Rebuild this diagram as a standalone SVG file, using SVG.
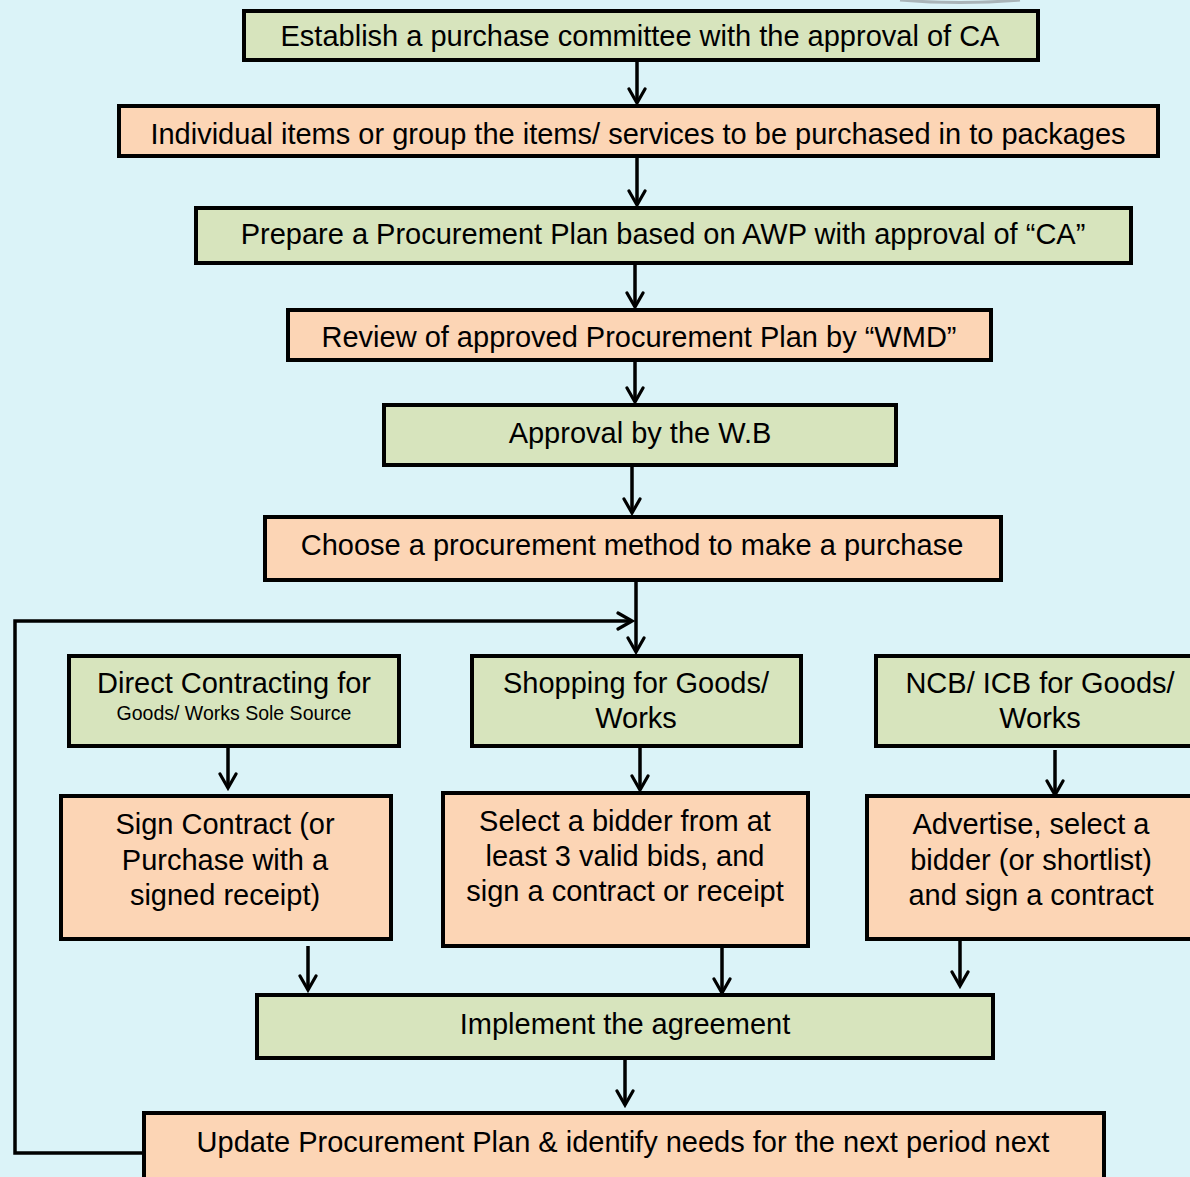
<svg xmlns="http://www.w3.org/2000/svg" width="1190" height="1177" viewBox="0 0 1190 1177">
<defs>
<marker id="ah" viewBox="0 0 20 20" refX="17" refY="10" markerWidth="20" markerHeight="20" markerUnits="userSpaceOnUse" orient="auto">
<path d="M3,2 L17,10 L3,18" fill="none" stroke="#000" stroke-width="3.2" stroke-linecap="round" stroke-linejoin="miter"/>
</marker>
</defs>
<style>
.g{fill:#D7E4BD;stroke:#000;stroke-width:4}
.o{fill:#FCD5B5;stroke:#000;stroke-width:4}
.t{font-family:"Liberation Sans",Arial,sans-serif;font-size:29px;fill:#000;text-anchor:middle;dominant-baseline:central}
.s{font-size:19.5px}
.c{fill:none;stroke:#000;stroke-width:3.5}
</style>
<rect width="1190" height="1177" fill="#DBF3F8"/>
<path d="M900,0 Q960,5 1020,0" fill="none" stroke="#A9B4B8" stroke-width="3"/>
<g id="connectors">
<line class="c" x1="637" y1="60" x2="637" y2="103" marker-end="url(#ah)"/>
<line class="c" x1="637" y1="157" x2="637" y2="205" marker-end="url(#ah)"/>
<line class="c" x1="635" y1="264" x2="635" y2="307" marker-end="url(#ah)"/>
<line class="c" x1="635" y1="361" x2="635" y2="402" marker-end="url(#ah)"/>
<line class="c" x1="632" y1="466" x2="632" y2="513" marker-end="url(#ah)"/>
<line class="c" x1="636" y1="581" x2="636" y2="652" marker-end="url(#ah)"/>
<polyline class="c" points="143,1153 15,1153 15,621 632,621" marker-end="url(#ah)"/>
<line class="c" x1="228" y1="747" x2="228" y2="788" marker-end="url(#ah)"/>
<line class="c" x1="640" y1="747" x2="640" y2="790" marker-end="url(#ah)"/>
<line class="c" x1="1055" y1="750" x2="1055" y2="795" marker-end="url(#ah)"/>
<line class="c" x1="308" y1="946" x2="308" y2="990" marker-end="url(#ah)"/>
<line class="c" x1="722" y1="948" x2="722" y2="993" marker-end="url(#ah)"/>
<line class="c" x1="960" y1="941" x2="960" y2="986" marker-end="url(#ah)"/>
<line class="c" x1="625" y1="1060" x2="625" y2="1105" marker-end="url(#ah)"/>
</g>
<g id="n1"><rect class="g" x="244" y="11" width="794" height="49"/><text class="t" x="640" y="36">Establish a purchase committee with the approval of CA</text></g>
<g id="n2"><rect class="o" x="119" y="106" width="1039" height="50"/><text class="t" x="638" y="134">Individual items or group the items/ services to be purchased in to packages</text></g>
<g id="n3"><rect class="g" x="196" y="208" width="935" height="55"/><text class="t" x="663" y="234">Prepare a Procurement Plan based on AWP with approval of “CA”</text></g>
<g id="n4"><rect class="o" x="288" y="310" width="703" height="50"/><text class="t" x="639" y="337">Review of approved Procurement Plan by “WMD”</text></g>
<g id="n5"><rect class="g" x="384" y="405" width="512" height="60"/><text class="t" x="640" y="433">Approval by the W.B</text></g>
<g id="n6"><rect class="o" x="265" y="517" width="736" height="63"/><text class="t" x="632" y="545">Choose a procurement method to make a purchase</text></g>
<g id="n7"><rect class="g" x="69" y="656" width="330" height="90"/><text class="t" x="234" y="683">Direct Contracting for</text><text class="t s" x="234" y="713">Goods/ Works Sole Source</text></g>
<g id="n8"><rect class="g" x="472" y="656" width="329" height="90"/><text class="t" x="636" y="683">Shopping for Goods/</text><text class="t" x="636" y="718">Works</text></g>
<g id="n9"><rect class="g" x="876" y="656" width="330" height="90"/><text class="t" x="1040" y="683">NCB/ ICB for Goods/</text><text class="t" x="1040" y="718">Works</text></g>
<g id="n10"><rect class="o" x="61" y="796" width="330" height="143"/><text class="t" x="225" y="824">Sign Contract (or</text><text class="t" x="225" y="860">Purchase with a</text><text class="t" x="225" y="895">signed receipt)</text></g>
<g id="n11"><rect class="o" x="443" y="793" width="365" height="153"/><text class="t" x="625" y="821">Select a bidder from at</text><text class="t" x="625" y="856">least 3 valid bids, and</text><text class="t" x="625" y="891">sign a contract or receipt</text></g>
<g id="n12"><rect class="o" x="867" y="796" width="340" height="143"/><text class="t" x="1031" y="824">Advertise, select a</text><text class="t" x="1031" y="860">bidder (or shortlist)</text><text class="t" x="1031" y="895">and sign a contract</text></g>
<g id="n13"><rect class="g" x="257" y="995" width="736" height="63"/><text class="t" x="625" y="1024">Implement the agreement</text></g>
<g id="n14"><rect class="o" x="144" y="1113" width="960" height="70"/><text class="t" x="623" y="1142">Update Procurement Plan &amp; identify needs for the next period next</text></g>
</svg>
